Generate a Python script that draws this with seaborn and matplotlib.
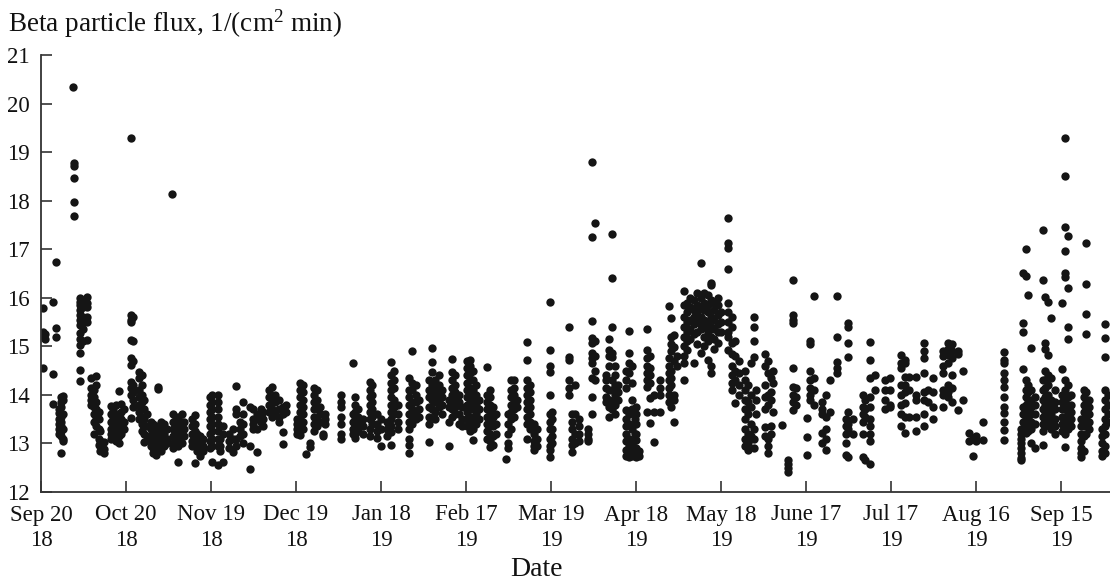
import matplotlib
matplotlib.use("Agg")
import matplotlib.pyplot as plt
import seaborn as sns
import pandas as pd

# ---- tick labels (every 30 days from Sep 20 2018) ----
tick_days = [0, 30, 60, 90, 120, 150, 180, 210, 240, 270, 300, 330, 360]
tick_labels = ["Sep 20\n18", "Oct 20\n18", "Nov 19\n18", "Dec 19\n18", "Jan 18\n19",
               "Feb 17\n19", "Mar 19\n19", "Apr 18\n19", "May 18\n19", "June 17\n19",
               "Jul 17\n19", "Aug 16\n19", "Sep 15\n19"]

# ---- data: (day since Sep 20 2018, [flux values]) ----
sep_oct_2018 = [
    (0.7, [15.78, 15.3, 15.22, 14.56]), (1.5, [15.25, 15.15]),
    (4.2, [15.91, 14.42, 13.81]), (5.4, [16.73, 15.37, 15.2]),
    (6.3, [13.7, 13.62, 13.5, 13.4, 13.3, 13.2]),
    (7.0, [13.95, 13.85, 13.75, 13.55, 13.45, 13.35, 13.25, 13.15, 12.81]),
    (7.8, [13.98, 13.9, 13.6, 13.3, 13.1, 13.05]),
    (11.2, [20.35]), (11.5, [18.78, 18.71, 18.47, 17.97, 17.68]),
    (13.8, [16.0, 15.92, 15.85, 15.75, 15.65, 15.55, 15.44, 15.27, 15.15, 15.03, 14.86, 14.51, 14.29]),
    (14.8, [15.95, 15.8, 15.6, 15.5, 15.35, 15.1]),
    (16.4, [16.02, 15.89, 15.8, 15.61, 15.51, 15.13]),
    (17.8, [14.35, 14.14, 14.0, 13.9, 13.8]),
    (18.6, [14.1, 13.95, 13.75, 13.6, 13.45, 13.2]),
    (19.5, [14.38, 14.2, 13.85, 13.7, 13.5, 13.35]),
    (20.3, [13.65, 13.5, 13.3, 13.1, 12.97]),
    (21.0, [13.25, 13.05, 12.95, 12.85]), (22.2, [13.02, 12.88, 12.8]),
    (24.6, [13.78, 13.6, 13.45, 13.3, 13.2, 13.1]),
    (25.5, [13.7, 13.55, 13.4, 13.25, 13.15]),
    (26.5, [13.79, 13.6, 13.5, 13.35, 13.2, 13.05]),
    (27.4, [14.08, 13.55, 13.4, 13.3, 13.15, 13.0]),
    (28.3, [13.82, 13.65, 13.5, 13.35, 13.2]),
    (29.3, [13.7, 13.45, 13.3]),
]

oct_nov_2018 = [
    (31.9, [19.3, 15.64, 15.55, 15.5, 15.13, 14.77, 14.62, 14.27, 14.15, 14.0, 13.52]),
    (32.6, [15.6, 15.1, 14.7, 14.2, 14.05, 13.9, 13.75]),
    (34.5, [14.48, 14.35, 14.1, 13.95, 13.8, 13.65, 13.5]),
    (35.5, [14.4, 14.2, 14.0, 13.85, 13.7, 13.55, 13.4, 13.25]),
    (36.5, [13.9, 13.7, 13.5, 13.35, 13.2, 13.04]),
    (37.5, [13.6, 13.35, 13.15]),
    (38.7, [13.45, 13.3, 13.15, 13.05, 12.95]),
    (39.5, [13.4, 13.25, 13.1, 13.0, 12.9, 12.8]),
    (40.5, [13.35, 13.2, 13.05, 12.95, 12.85, 12.76]),
    (41.3, [14.17, 14.12, 13.3, 13.15, 13.0, 12.9]),
    (42.3, [13.45, 13.3, 13.1, 13.0, 12.85]),
    (43.3, [13.4, 13.2, 13.05, 12.95]), (44.3, [13.3, 13.1, 13.0]),
    (46.2, [18.14]),
    (46.5, [13.6, 13.45, 13.3, 13.15, 13.0, 12.9]),
    (47.5, [13.5, 13.35, 13.2, 13.05]),
    (48.5, [13.55, 13.4, 13.25, 13.1, 12.95, 12.62]),
    (49.6, [13.6, 13.45, 13.3, 13.15, 13.0]),
    (50.6, [13.45, 13.3, 13.15]),
    (53.3, [13.5, 13.35, 13.2, 13.05, 12.95]),
    (54.2, [13.58, 13.4, 13.25, 13.1, 13.0, 12.6]),
    (55.2, [13.2, 13.05, 12.95, 12.85]),
    (56.2, [13.15, 13.0, 12.9, 12.8, 12.75]),
    (57.2, [13.1, 12.95, 12.85]),
    (59.5, [13.95, 13.8, 13.65, 13.5, 13.35, 13.2, 13.05, 12.9]),
]

nov_dec_2018 = [
    (60.3, [14.0, 13.85, 13.7, 13.55, 13.4, 13.25, 13.1, 12.95, 12.62]),
    (62.3, [14.0, 13.85, 13.7, 13.55, 13.4, 13.25, 13.1, 12.95, 12.55]),
    (63.3, [13.1, 12.95, 12.85]), (64.3, [12.62, 13.35, 13.2]),
    (66.5, [13.2, 13.05, 12.9]), (67.6, [13.3, 13.1, 12.82]),
    (69.0, [14.19, 13.7, 13.6, 13.1, 12.95]), (70.2, [13.45, 13.3, 13.15]),
    (71.4, [13.85, 13.6, 13.4, 13.2, 13.0]), (73.8, [13.75, 12.95, 12.48]),
    (75.0, [13.7, 13.5, 13.4, 13.3]), (76.2, [13.6, 13.5, 13.3, 12.83]),
    (77.5, [13.7, 13.55, 13.45]), (78.5, [13.65, 13.5, 13.35]),
    (80.5, [14.1, 13.95, 13.8, 13.65]), (81.5, [14.17, 13.9, 13.7, 13.55]),
    (82.5, [14.0, 13.85, 13.6]), (84.0, [13.9, 13.7, 13.55, 13.45]),
    (85.5, [13.75, 13.6, 13.24, 12.99]), (86.5, [13.8, 13.65]),
]

dec_jan_2019 = [
    (90.5, [13.5, 13.4, 13.3, 13.2]),
    (91.5, [14.25, 14.1, 13.95, 13.8, 13.65, 13.5, 13.35, 13.17]),
    (92.5, [14.2, 14.05, 13.9, 13.75, 13.6, 13.45, 13.3]),
    (93.5, [12.78]), (95.0, [13.0, 12.93]),
    (96.5, [14.15, 14.0, 13.85, 13.7, 13.55, 13.4, 13.25]),
    (97.5, [14.1, 13.9, 13.7, 13.5, 13.35]),
    (98.5, [13.75, 13.6, 13.45]), (99.5, [13.2, 13.15]),
    (100.3, [13.6, 13.5, 13.4]),
    (105.8, [14.0, 13.85, 13.75, 13.55, 13.4, 13.2, 13.1]),
    (110.0, [14.66, 13.6, 13.45, 13.3, 13.2]),
    (111.0, [13.95, 13.8, 13.65, 13.5, 13.35, 13.2, 13.11]),
    (112.0, [13.7, 13.55, 13.4, 13.25]), (113.5, [13.5, 13.35, 13.2]),
    (116.0, [14.27, 14.1, 13.95, 13.8, 13.65, 13.5, 13.3, 13.15]),
    (117.0, [14.2, 14.0, 13.85, 13.7, 13.55, 13.4]),
    (118.5, [13.6, 13.4, 13.25, 13.11]), (120.0, [13.5, 13.3, 12.95]),
]

jan_feb_2019 = [
    (122.0, [13.45, 13.3, 13.15]),
    (123.5, [14.68, 14.4, 14.25, 14.1, 13.95, 13.8, 13.65, 13.5, 13.35, 13.24, 12.97]),
    (124.5, [14.5, 14.3, 14.15, 13.9, 13.75, 13.6]),
    (126.0, [13.8, 13.6, 13.45, 13.3]),
    (130.0, [14.35, 14.1, 13.95, 13.8, 13.6, 13.45, 13.3, 13.1, 12.97, 12.8]),
    (131.0, [14.9, 14.25, 14.1, 13.85, 13.7, 13.55, 13.4]),
    (132.5, [14.2, 14.0, 13.85, 13.65, 13.5]), (133.5, [13.9, 13.7, 13.55]),
    (137.0, [14.3, 14.1, 13.95, 13.75, 13.55, 13.4, 13.02]),
    (138.0, [14.96, 14.68, 14.48, 14.2, 14.05, 13.9, 13.7]),
    (139.0, [14.3, 14.15, 14.0, 13.85, 13.65, 13.5]),
    (140.5, [14.4, 14.2, 14.05, 13.9, 13.75]), (141.5, [14.1, 13.95, 13.8, 13.6]),
    (144.0, [13.9, 13.75, 13.45, 12.95]),
    (145.0, [14.74, 14.48, 14.3, 14.15, 14.0, 13.85, 13.7, 13.55]),
    (146.0, [14.4, 14.2, 14.05, 13.9, 13.75, 13.6]),
    (147.5, [14.0, 13.85, 13.6, 13.4]), (148.5, [13.75, 13.5, 13.35]),
]

feb_mar_2019 = [
    (150.5, [14.7, 14.55, 14.4, 14.25, 14.1, 13.95, 13.8, 13.65, 13.5, 13.35]),
    (151.5, [14.72, 14.6, 14.45, 14.3, 14.15, 14.0, 13.85, 13.7, 13.55, 13.4, 13.25]),
    (152.5, [14.5, 14.3, 14.1, 13.9, 13.7, 13.5, 13.3, 13.07]),
    (153.5, [14.2, 14.0, 13.8, 13.6, 13.4]), (154.5, [13.9, 13.7, 13.5]),
    (157.5, [14.58, 14.0, 13.85, 13.7, 13.55, 13.4, 13.25, 13.1]),
    (158.5, [14.1, 13.95, 13.8, 13.65, 13.5, 13.35, 13.2, 13.05, 12.93]),
    (159.5, [13.75, 13.55, 13.35, 13.15, 12.97]), (160.5, [13.6, 13.4, 13.2]),
    (164.0, [12.68]), (165.0, [13.6, 13.4, 13.2, 13.0, 12.9]),
    (166.0, [14.31, 14.1, 13.95, 13.8, 13.65, 13.5, 13.3]),
    (167.0, [14.3, 14.15, 14.0, 13.85, 13.7, 13.55]), (168.0, [13.9, 13.75]),
    (171.5, [15.09, 14.72, 14.3, 14.15, 14.0, 13.85, 13.7, 13.55, 13.4, 13.1]),
    (172.5, [14.2, 14.05, 13.9, 13.75, 13.6, 13.45, 13.3]),
    (174.0, [13.4, 13.2, 13.05, 12.95, 12.86]), (175.0, [13.3, 13.1, 12.95]),
    (179.7, [15.91, 14.92, 14.6, 14.47, 14.0, 13.6, 13.45, 13.3, 13.1, 12.95, 12.86, 12.73]),
]

mar_apr_2019 = [
    (180.5, [13.65, 13.5, 13.3, 13.15, 13.0]),
    (186.5, [15.4, 14.78, 14.72, 14.3, 14.15, 14.0]),
    (187.5, [13.6, 13.45, 13.3, 13.1, 12.97, 12.83]),
    (188.5, [14.2, 13.6, 13.2, 13.0]), (190.0, [13.5, 13.35, 13.2, 13.05]),
    (193.0, [13.3, 13.2, 13.1, 13.05]),
    (194.5, [18.79, 17.26, 15.53, 15.17, 15.07, 14.86, 14.75, 14.65, 14.35, 13.96, 13.6]),
    (195.5, [17.55, 15.1, 14.8, 14.5, 14.3]),
    (199.5, [14.4, 14.3, 14.15, 13.95, 13.85]),
    (200.5, [15.15, 14.92, 14.8, 14.6, 14.1, 13.9, 13.75, 13.55]),
    (201.5, [17.31, 16.41, 15.4, 14.86, 14.78, 14.3, 14.1, 13.85, 13.7]),
    (202.5, [14.6, 14.4, 14.2, 14.0, 13.8, 13.6]), (203.5, [14.2, 14.05, 13.9]),
    (206.5, [14.5, 14.3, 14.15, 13.69, 13.5, 13.35, 13.2, 13.05, 12.86, 12.75]),
    (207.5, [15.32, 14.87, 14.65, 14.45, 13.6, 13.4, 13.1, 12.95, 12.8, 12.72]),
    (208.5, [14.6, 14.24, 13.9, 13.7, 13.3, 13.0, 12.85, 12.75]),
    (209.5, [13.5, 13.2, 12.9, 12.8]),
]

apr_may_2019 = [
    (210.0, [13.75, 13.6, 13.4, 13.2, 13.07, 12.9, 12.8, 12.72]),
    (211.0, [12.85, 12.75]),
    (214.0, [15.36, 14.92, 14.75, 14.6, 14.45, 14.3, 14.17, 13.65]),
    (215.0, [14.8, 14.55, 14.4, 14.25, 13.94, 13.42]),
    (216.5, [14.0, 13.65, 13.03]), (218.5, [14.3, 14.14, 14.0, 13.65]),
    (221.5, [15.83, 14.75, 14.6, 14.45, 14.3, 14.15, 14.0, 13.85]),
    (222.5, [15.59, 15.2, 15.05, 14.9, 14.5, 14.35, 14.2, 13.75]),
    (223.5, [15.23, 14.98, 14.7, 14.0, 13.9, 13.44]), (224.5, [14.8, 14.6]),
    (227.0, [16.13, 15.85, 15.6, 15.4, 15.2, 15.0, 14.8, 14.65, 14.31]),
    (228.0, [15.9, 15.7, 15.5, 15.3, 15.1, 14.92]),
    (229.0, [16.0, 15.8, 15.55, 15.35, 15.15]),
    (230.5, [15.95, 15.75, 15.6, 15.45, 15.25, 14.65]),
    (231.5, [16.1, 15.85, 15.7, 15.5, 15.3, 15.05]),
    (233.0, [16.71, 16.0, 15.8, 15.6, 15.45, 15.35, 14.86]),
    (234.0, [16.1, 15.9, 15.75, 15.55, 15.4, 15.2, 15.0]),
    (235.5, [16.05, 15.85, 15.7, 15.5, 15.3, 15.1, 14.72]),
    (236.5, [16.3, 16.26, 15.95, 15.6, 15.4, 15.2, 14.6, 14.45]),
    (237.5, [15.9, 15.75, 15.55, 15.35, 15.15, 14.95]),
    (239.0, [16.0, 15.85, 15.65, 15.45, 15.3, 15.07]),
    (240.0, [15.7, 15.5, 15.3]),
]

may_jun_2019 = [
    (242.5, [17.64, 17.12, 17.02, 16.59, 15.9, 15.7, 15.5, 15.3, 15.2, 14.92]),
    (244.0, [15.6, 15.4, 15.07, 14.85, 14.6, 14.4, 14.25, 14.1]),
    (245.0, [15.1, 14.8, 14.5, 14.3, 13.84]), (246.5, [14.7, 14.45, 14.2, 14.0]),
    (248.5, [14.5, 14.3, 14.1, 13.9, 13.7, 13.5, 13.3, 13.1, 12.95]),
    (249.5, [14.2, 13.85, 13.6, 13.2, 13.0, 12.86]),
    (250.5, [14.65, 14.0, 13.75, 13.4, 13.15]),
    (251.5, [15.6, 15.4, 15.1, 14.78, 13.3, 13.1, 12.9]),
    (252.5, [14.1, 13.9, 13.6]),
    (255.5, [14.84, 14.6, 14.2, 13.95, 13.7, 13.33, 13.15]),
    (256.5, [14.7, 14.45, 14.0, 13.8, 13.1, 12.95, 12.8]),
    (257.5, [14.35, 14.05, 13.9, 13.35, 13.2]), (258.5, [14.5, 14.25, 13.65]),
    (261.5, [13.38]), (263.5, [12.66, 12.58, 12.5, 12.42]),
    (265.5, [16.37, 15.64, 15.55, 15.48, 14.55, 14.17, 14.0, 13.85, 13.69]),
    (266.5, [14.15, 13.95, 13.8]),
]

jun_jul_2019 = [
    (270.5, [13.52, 13.13, 12.76]),
    (271.5, [15.1, 15.05, 14.5, 14.3, 14.15, 14.0, 13.9]),
    (273.0, [16.04, 14.35, 14.1, 13.8]),
    (275.5, [13.85, 13.7, 13.6, 13.21, 13.0]),
    (277.0, [14.0, 13.55, 13.3, 13.1, 12.86]), (278.5, [14.3, 13.65]),
    (281.0, [16.04, 15.19, 14.67, 14.55, 14.45]),
    (284.0, [13.5, 13.35, 13.2, 13.0, 12.76]),
    (285.0, [15.48, 15.4, 15.07, 14.78, 13.65, 13.4, 13.3, 12.72]),
    (286.5, [13.5, 13.2]),
    (290.0, [14.0, 13.75, 13.6, 13.45, 13.2, 12.72]),
    (291.0, [13.9, 13.7, 13.55, 12.65]),
    (292.5, [15.09, 14.72, 14.35, 13.95, 13.75, 13.5, 13.35, 13.2, 13.05, 12.58]),
    (294.5, [14.4, 14.1]), (298.0, [14.3, 14.1, 13.9, 13.7]),
    (299.5, [14.35, 14.1, 13.8, 13.75]),
]

jul_aug_2019 = [
    (303.5, [14.82, 14.65, 14.55, 14.2, 14.0, 13.8, 13.6, 13.35]),
    (305.0, [14.72, 14.65, 14.37, 14.2, 14.05, 13.83, 13.55, 13.21]),
    (306.5, [14.37, 14.1, 13.55]), (309.0, [14.37, 14.0, 13.9, 13.55, 13.25]),
    (311.5, [15.07, 14.9, 14.75, 14.45, 14.05, 13.9, 13.6, 13.35]),
    (313.0, [14.1, 13.85]), (315.0, [14.35, 14.05, 13.75, 13.5]),
    (318.5, [14.9, 14.8, 14.6, 14.45, 14.1, 14.0, 13.75]),
    (320.0, [15.07, 14.95, 14.82, 14.65, 14.2, 14.05, 13.95]),
    (321.5, [15.05, 14.9, 14.75, 14.4, 14.15, 13.85]),
    (323.5, [14.9, 14.85, 13.69]), (325.5, [14.5, 13.9]),
    (327.5, [13.21, 13.05]), (329.0, [12.74, 13.1]),
]

aug_sep_2019 = [
    (330.0, [13.15, 13.05]), (332.5, [13.44, 13.08]),
    (339.8, [14.88, 14.72, 14.65, 14.45, 14.3, 14.17, 13.95, 13.75, 13.62, 13.45, 13.28, 13.07]),
    (346.0, [13.3, 13.2, 13.1, 13.0, 12.9, 12.8, 12.7, 12.66]),
    (346.5, [16.5, 15.48, 15.3, 14.53, 13.75, 13.6, 13.45]),
    (347.5, [17.0, 16.45, 14.31, 14.1, 13.95, 13.8, 13.65, 13.5, 13.35, 13.21]),
    (348.5, [16.06, 14.2, 14.05, 13.9, 13.7, 13.55, 13.4, 13.25]),
    (349.5, [14.97, 14.1, 13.9, 13.75, 13.6, 13.45, 13.3, 13.0]),
    (351.0, [13.95, 13.8, 13.6, 13.4, 12.9]),
    (353.5, [17.4, 16.37, 14.3, 14.1, 13.9, 13.7, 13.55, 13.4, 13.25, 12.97]),
    (354.5, [16.02, 15.07, 14.95, 14.5, 14.3, 14.15, 13.95, 13.8, 13.65, 13.5, 13.35]),
    (355.5, [15.92, 14.82, 14.4, 14.2, 14.0, 13.85, 13.7, 13.55, 13.4]),
    (356.5, [15.59, 14.35, 13.9, 13.75, 13.6, 13.45, 13.3]),
    (358.0, [14.1, 13.85, 13.7, 13.5, 13.35, 13.2]),
]

sep_oct_2019 = [
    (360.5, [15.89, 14.53, 14.0, 13.85, 13.7, 13.55, 13.4, 13.25]),
    (361.5, [19.3, 18.5, 17.46, 16.97, 16.52, 16.43, 14.3, 14.1, 13.9, 13.7, 13.55, 13.4, 13.2, 12.93]),
    (362.5, [17.28, 16.2, 15.4, 15.16, 14.2, 13.95, 13.8, 13.6, 13.45, 13.3]),
    (363.5, [14.0, 13.8, 13.65, 13.5, 13.35]),
    (367.0, [13.5, 13.35, 13.2, 13.05, 12.9, 12.8, 12.72]),
    (368.0, [14.1, 13.95, 13.8, 13.65, 13.5, 13.35, 13.15, 12.85]),
    (369.0, [17.13, 16.28, 15.67, 15.25, 14.05, 13.9, 13.7, 13.55, 13.4, 13.2]),
    (370.0, [13.9, 13.75, 13.6, 13.45, 13.3]),
    (374.5, [13.3, 13.15, 13.0, 12.85, 12.75]),
    (375.5, [15.46, 15.17, 14.78, 14.1, 13.9, 13.7, 13.5, 13.35, 13.2, 12.95, 12.8]),
    (376.5, [14.0, 13.8, 13.6, 13.45]),
]

groups = [sep_oct_2018, oct_nov_2018, nov_dec_2018, dec_jan_2019, jan_feb_2019,
          feb_mar_2019, mar_apr_2019, apr_may_2019, may_jun_2019, jun_jul_2019,
          jul_aug_2019, aug_sep_2019, sep_oct_2019]

rows = [(d, v) for g in groups for d, vals in g for v in vals]
df = pd.DataFrame(rows, columns=["day", "flux"])

# ---- style ----
sns.set_style("ticks")
plt.rcParams["font.family"] = ["Liberation Serif", "DejaVu Serif"]
plt.rcParams["mathtext.fontset"] = "custom"
plt.rcParams["mathtext.rm"] = "Liberation Serif"
plt.rcParams["mathtext.it"] = "Liberation Serif:italic"

W, H = 1110, 583
fig = plt.figure(figsize=(W / 100, H / 100), dpi=100)
ax = fig.add_axes([41 / W, 1 - 492 / H, (1110 - 41) / W, (492 - 55) / H])

sns.scatterplot(data=df, x="day", y="flux", color="#151515", s=36,
                linewidth=0, ax=ax, legend=False, clip_on=True)

ax.set_xlim(0, 377.3)
ax.set_ylim(12, 21)
ax.set_xticks(tick_days)
ax.set_xticklabels(tick_labels, fontsize=16.5, linespacing=1.25)
ax.set_yticks(range(12, 22))
ax.set_yticklabels([str(v) for v in range(12, 22)], fontsize=16.5)
ax.tick_params(axis="both", direction="in", length=8, width=1.2, color="#333333",
               labelcolor="#111111")
ax.tick_params(axis="x", pad=9)
ax.tick_params(axis="y", pad=8)
for s in ["top", "right"]:
    ax.spines[s].set_visible(False)
for s in ["left", "bottom"]:
    ax.spines[s].set_linewidth(1.3)
    ax.spines[s].set_color("#333333")
ax.set_xlabel("")
ax.set_ylabel("")

fig.text(8 / W, 1 - 7 / H, r"Beta particle flux, 1/(cm$^2$ min)", fontsize=19.5,
         ha="left", va="top", color="#111111")
fig.text(536 / W, 1 - 569 / H, "Date", fontsize=20, ha="center", va="center",
         color="#111111")

fig.savefig("out.png", dpi=100)
